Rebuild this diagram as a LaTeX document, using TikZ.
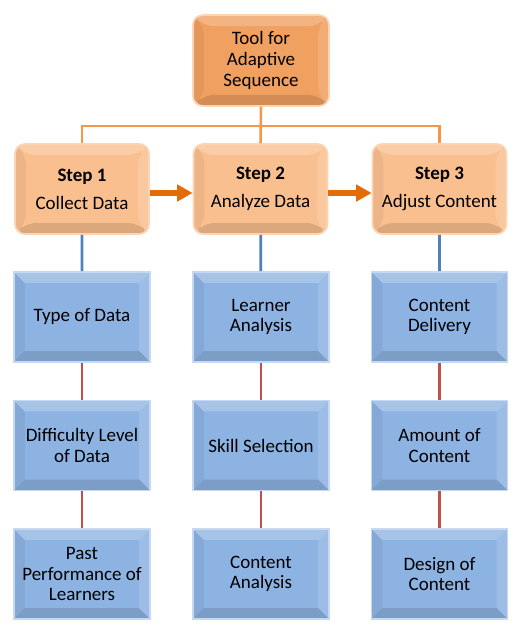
\documentclass[tikz,border=0pt]{standalone}
\usepackage{fontspec}
\setmainfont{Carlito}
\usepackage{tikz}
\usetikzlibrary{arrows.meta}

\definecolor{toporange}{HTML}{F0A060}
\definecolor{steporange}{HTML}{FABF8F}
\definecolor{glow}{HTML}{FCD5B5}
\definecolor{flowarrow}{HTML}{E36C09}
\definecolor{busline}{HTML}{F79646}
\definecolor{boxblue}{HTML}{8DB3E2}
\definecolor{blueedge}{HTML}{C6D9F1}
\definecolor{blueline}{HTML}{4F81BD}
\definecolor{redline}{HTML}{C0504D}

\tikzset{
  bevel/.style={path picture={
      \fill[white,opacity=.22] (path picture bounding box.north west) -- (path picture bounding box.north east)
        -- ([shift={(-11,11)}]path picture bounding box.north east) -- ([shift={(11,11)}]path picture bounding box.north west) -- cycle;
      \fill[white,opacity=.14] (path picture bounding box.north east) -- (path picture bounding box.south east)
        -- ([shift={(-11,-11)}]path picture bounding box.south east) -- ([shift={(-11,11)}]path picture bounding box.north east) -- cycle;
      \fill[black,opacity=.05] (path picture bounding box.north west) -- (path picture bounding box.south west)
        -- ([shift={(11,-11)}]path picture bounding box.south west) -- ([shift={(11,11)}]path picture bounding box.north west) -- cycle;
      \fill[black,opacity=.12] (path picture bounding box.south west) -- (path picture bounding box.south east)
        -- ([shift={(-11,-11)}]path picture bounding box.south east) -- ([shift={(11,-11)}]path picture bounding box.south west) -- cycle;
  }},
  topbox/.style={bevel, rounded corners=7pt, fill=toporange, draw=glow, line width=1.2pt,
    minimum width=3.4cm, minimum height=2.27cm, align=center, font=\fontsize{13.5}{14.7}\selectfont},
  stepbox/.style={topbox, fill=steporange, minimum width=3.35cm, minimum height=2.25cm},
  itembox/.style={bevel, fill=boxblue, draw=blueedge, line width=1.2pt,
    minimum width=3.4cm, minimum height=2.25cm, align=center, font=\fontsize{13.5}{14.7}\selectfont},
  flow/.style={-{Triangle[length=11pt,width=11.5pt]}, flowarrow, line width=4.2pt},
}

\begin{document}
\begin{tikzpicture}[x=0.025cm,y=-0.025cm]
\useasboundingbox (0,0) rectangle (522,632);

\node[topbox]  (T)  at (261,60.5)  {Tool for\\Adaptive\\Sequence};
\node[stepbox] (S1) at (82,189)    {\textbf{Step 1}\\[5pt]Collect Data};
\node[stepbox] (S2) at (260.5,189) {\textbf{Step 2}\\[5pt]Analyze Data};
\node[stepbox] (S3) at (439.5,189) {\textbf{Step 3}\\[5pt]Adjust Content};

\node[itembox] (A1) at (82,317)    {Type of Data};
\node[itembox] (A2) at (82,445.5)  {Difficulty Level\\of Data};
\node[itembox] (A3) at (82,574)    {Past\\Performance of\\Learners};
\node[itembox] (B1) at (261,317)   {Learner\\Analysis};
\node[itembox] (B2) at (261,445.5) {Skill Selection};
\node[itembox] (B3) at (261,574)   {Content\\Analysis};
\node[itembox] (C1) at (439.5,317)   {Content\\Delivery};
\node[itembox] (C2) at (439.5,445.5) {Amount of\\Content};
\node[itembox] (C3) at (439.5,574)   {Design of\\Content};

\coordinate (bus) at (261,126);

% orange tree
\draw[busline, line width=1.8pt] (T.south) -- (S2.north);
\draw[busline, line width=1.8pt] (S1.north) |- (bus) -| (S3.north);

% step flow
\draw[flow] ([yshift=-0.1cm]S1.east) -- ([yshift=-0.1cm]S2.west);
\draw[flow] ([yshift=-0.1cm]S2.east) -- ([yshift=-0.1cm]S3.west);

% steps to items
\draw[blueline, line width=2pt] (S1) -- (A1) (S2) -- (B1) (S3) -- (C1);
\draw[redline, line width=2pt] (A1) -- (A2) (A2) -- (A3)
  (B1) -- (B2) (B2) -- (B3) (C1) -- (C2) (C2) -- (C3);
\end{tikzpicture}
\end{document}
